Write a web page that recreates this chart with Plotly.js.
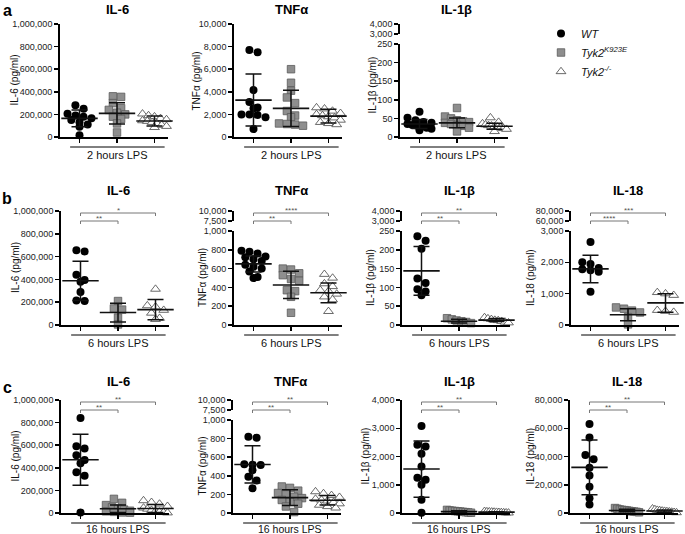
<!DOCTYPE html>
<html><head><meta charset="utf-8">
<script src="https://cdn.plot.ly/plotly-3.0.1.min.js"></script>
<style>html,body{margin:0;padding:0;background:#fff}#chart{width:685px;height:534px}</style>
</head><body><div id="chart"></div>
<script>
// ---------------- data ----------------
const groupNames = ['<i>WT</i>', '<i>Tyk2<sup>K923E</sup></i>', '<i>Tyk2<sup>-/-</sup></i>'];
const timeLabels = {a: '2 hours LPS', b: '6 hours LPS', c: '16 hours LPS'};

// row a : 2 hours LPS
const a_IL6_WT = [282000, 250000, 205000, 190000, 180000, 165000, 150000, 130000, 110000, 90000, 15000];
const a_IL6_KE = [360000, 355000, 300000, 255000, 240000, 215000, 200000, 180000, 160000, 120000, 40000];
const a_IL6_KO = [205000, 190000, 180000, 165000, 155000, 145000, 140000, 130000, 120000, 105000, 95000, 85000];
const a_IL6_mean = [165000, 209000, 141000];
const a_IL6_sd = [75000, 95000, 44000];

const a_TNF_WT = [7700, 7500, 4150, 3100, 2600, 2550, 2000, 2000, 1950, 1750, 700];
const a_TNF_KE = [6000, 4800, 4100, 3500, 3000, 2300, 1900, 1750, 1200, 1150, 1100, 1000];
const a_TNF_KO = [2600, 2500, 2300, 2100, 2000, 1900, 1800, 1700, 1500, 1300, 1200, 1100];
const a_TNF_mean = [3265, 2530, 1850];
const a_TNF_sd = [2300, 1600, 600];

const a_IL1b_WT = [68, 52, 45, 40, 38, 35, 32, 30, 28, 25, 22, 18];
const a_IL1b_KE = [78, 55, 50, 45, 42, 40, 38, 35, 32, 30, 25, 15];
const a_IL1b_KO = [52, 40, 36, 33, 31, 30, 28, 27, 25, 23, 21, 15];
const a_IL1b_mean = [35, 38, 29];
const a_IL1b_sd = [12, 13, 8];

// row b : 6 hours LPS
const b_IL6_WT = [655000, 645000, 440000, 395000, 380000, 290000, 215000, 210000];
const b_IL6_KE = [210000, 145000, 135000, 65000, 5000];
const b_IL6_KO = [315000, 170000, 160000, 130000, 105000, 60000, 50000];
const b_IL6_mean = [388000, 109000, 135000];
const b_IL6_sd = [172000, 82000, 88000];
const b_IL6_sig = ['**', '*'];

const b_TNF_WT = [790, 780, 760, 730, 720, 700, 680, 640, 620, 600, 570, 510, 500];
const b_TNF_KE = [600, 590, 550, 530, 490, 470, 370, 360, 300, 130];
const b_TNF_KO = [540, 500, 440, 410, 370, 360, 330, 300, 270, 145];
const b_TNF_mean = [650, 426, 343];
const b_TNF_sd = [85, 145, 105];
const b_TNF_sig = ['**', '****'];

const b_IL1b_WT = [236, 224, 203, 124, 112, 95, 89, 79];
const b_IL1b_KE = [18, 15, 12, 10, 8, 5];
const b_IL1b_KO = [20, 17, 15, 13, 12, 10, 8, 6];
const b_IL1b_mean = [144, 10, 13];
const b_IL1b_sd = [65, 5, 4];
const b_IL1b_sig = ['**', '**'];

const b_IL18_WT = [2650, 2000, 1950, 1820, 1780, 1750, 1700, 1060];
const b_IL18_KE = [560, 520, 460, 400, 250, 20];
const b_IL18_KO = [1040, 1000, 950, 470, 440, 410];
const b_IL18_mean = [1790, 325, 705];
const b_IL18_sd = [440, 190, 295];
const b_IL18_sig = ['****', '***'];

// row c : 16 hours LPS
const c_IL6_WT = [840000, 590000, 570000, 510000, 470000, 440000, 360000, 330000, 5000];
const c_IL6_KE = [125000, 90000, 70000, 50000, 40000, 30000, 20000, 15000, 10000, 5000, 3000];
const c_IL6_KO = [110000, 95000, 80000, 60000, 45000, 35000, 25000, 15000, 10000, 5000, 2000];
const c_IL6_mean = [471000, 38000, 40000];
const c_IL6_sd = [225000, 33000, 35000];
const c_IL6_sig = ['**', '**'];

const c_TNF_WT = [820, 810, 525, 520, 515, 460, 390, 350, 265];
const c_TNF_KE = [285, 270, 240, 215, 200, 175, 160, 140, 120, 100, 70, 10];
const c_TNF_KO = [230, 210, 190, 170, 150, 140, 130, 115, 100, 85, 70, 55];
const c_TNF_mean = [522, 165, 137];
const c_TNF_sd = [200, 85, 50];
const c_TNF_sig = ['**', '**'];

const c_IL1b_WT = [3080, 2420, 2350, 2100, 1650, 1250, 1180, 1000, 470, 10];
const c_IL1b_KE = [110, 90, 80, 70, 60, 50, 40, 30, 20, 10];
const c_IL1b_KO = [60, 50, 45, 40, 35, 30, 25, 20, 15, 10, 5];
const c_IL1b_mean = [1556, 50, 30];
const c_IL1b_sd = [995, 30, 17];
const c_IL1b_sig = ['**', '**'];

const c_IL18_WT = [63000, 53500, 41000, 38000, 32000, 26500, 18500, 10500, 6000];
const c_IL18_KE = [3500, 3000, 2500, 2200, 2000, 1800, 1500, 1200, 1000, 800, 500];
const c_IL18_KO = [3000, 2500, 2000, 1800, 1500, 1300, 1100, 900, 700, 500, 300];
const c_IL18_mean = [32300, 1800, 1400];
const c_IL18_sd = [19300, 900, 800];
const c_IL18_sig = ['**', '**'];

// ---------------- layout geometry ----------------
const W = 685, H = 534;
const FONT = 'Liberation Sans, Arial, sans-serif';
const rows = {
  a: {top: 24, bottom: 137, titleY: 9, letterY: 10},
  b: {top: 211, bottom: 325, titleY: 190, letterY: 198},
  c: {top: 400, bottom: 513, titleY: 381, letterY: 387}
};
const PW = 108, XR = [-0.52, 2.36];
const pxPerCat = PW / (XR[1] - XR[0]);

const panels = [
  {row:'a', ax:60,  title:'IL-6', yt:'IL-6 (pg/ml)', ytx:14, range:[0,1e6], dtick:2e5, d:[a_IL6_WT,a_IL6_KE,a_IL6_KO], m:a_IL6_mean, s:a_IL6_sd},
  {row:'a', ax:234, title:'TNFα', yt:'TNFα (pg/ml)', ytx:196, range:[0,1e4], dtick:2000, d:[a_TNF_WT,a_TNF_KE,a_TNF_KO], m:a_TNF_mean, s:a_TNF_sd},
  {row:'a', ax:400, title:'IL-1β', yt:'IL-1β (pg/ml)', ytx:372, range:[0,250], dtick:50, brk:[3000,4000], d:[a_IL1b_WT,a_IL1b_KE,a_IL1b_KO], m:a_IL1b_mean, s:a_IL1b_sd},
  {row:'b', ax:61,  title:'IL-6', yt:'IL-6 (pg/ml)', ytx:15, range:[0,1e6], dtick:2e5, d:[b_IL6_WT,b_IL6_KE,b_IL6_KO], m:b_IL6_mean, s:b_IL6_sd, sig:b_IL6_sig},
  {row:'b', ax:234, title:'TNFα', yt:'TNFα (pg/ml)', ytx:202, range:[0,1000], dtick:200, brk:[7500,10000], d:[b_TNF_WT,b_TNF_KE,b_TNF_KO], m:b_TNF_mean, s:b_TNF_sd, sig:b_TNF_sig},
  {row:'b', ax:402, title:'IL-1β', yt:'IL-1β (pg/ml)', ytx:370, range:[0,250], dtick:50, brk:[3000,4000], d:[b_IL1b_WT,b_IL1b_KE,b_IL1b_KO], m:b_IL1b_mean, s:b_IL1b_sd, sig:b_IL1b_sig},
  {row:'b', ax:571, title:'IL-18', yt:'IL-18 (pg/ml)', ytx:530, range:[0,3000], dtick:1000, brk:[60000,80000], d:[b_IL18_WT,b_IL18_KE,b_IL18_KO], m:b_IL18_mean, s:b_IL18_sd, sig:b_IL18_sig},
  {row:'c', ax:61,  title:'IL-6', yt:'IL-6 (pg/ml)', ytx:15, range:[0,1e6], dtick:2e5, d:[c_IL6_WT,c_IL6_KE,c_IL6_KO], m:c_IL6_mean, s:c_IL6_sd, sig:c_IL6_sig},
  {row:'c', ax:233, title:'TNFα', yt:'TNFα (pg/ml)', ytx:202, range:[0,1000], dtick:200, brk:[7500,10000], d:[c_TNF_WT,c_TNF_KE,c_TNF_KO], m:c_TNF_mean, s:c_TNF_sd, sig:c_TNF_sig},
  {row:'c', ax:402, title:'IL-1β', yt:'IL-1β (pg/ml)', ytx:365, range:[0,4000], dtick:1000, d:[c_IL1b_WT,c_IL1b_KE,c_IL1b_KO], m:c_IL1b_mean, s:c_IL1b_sd, sig:c_IL1b_sig},
  {row:'c', ax:570, title:'IL-18', yt:'IL-18 (pg/ml)', ytx:530, range:[0,80000], dtick:20000, d:[c_IL18_WT,c_IL18_KE,c_IL18_KO], m:c_IL18_mean, s:c_IL18_sd, sig:c_IL18_sig}
];

const markerStyles = [
  {symbol:'circle', size:8, color:'#000000', line:{width:0}},
  {symbol:'square', size:7.5, color:'#8e8e8e', line:{width:0.8, color:'#5a5a5a'}},
  {symbol:'triangle-up', size:8.5, color:'#ffffff', line:{width:0.8, color:'#444444'}}
];

// deterministic swarm: points whose pixel heights are close share a row, centred on the category
function swarm(vals, pxPerUnit, diam) {
  const idx = vals.map((v, i) => i).sort((a, b) => vals[b] - vals[a]);
  const off = new Array(vals.length).fill(0);
  let bin = [], start = null;
  const flush = () => {
    const n = bin.length;
    const step = n > 1 ? Math.min(diam, 24 / (n - 1)) : 0;
    bin.forEach((j, k) => { off[j] = (k - (n - 1) / 2) * step; });
    bin = [];
  };
  idx.forEach(j => {
    const py = vals[j] * pxPerUnit;
    if (start === null || start - py > diam * 0.7) { flush(); start = py; }
    bin.push(j);
  });
  flush();
  return off.map(o => o / pxPerCat);
}

const traces = [], shapes = [], annotations = [];
const layout = {
  width: W, height: H, margin: {l:0, r:0, t:0, b:0},
  paper_bgcolor: '#ffffff', plot_bgcolor: 'rgba(0,0,0,0)',
  font: {family: FONT, color: '#111', size: 10},
  showlegend: true,
  legend: {x: 541/W, y: 1 - 19/H, xanchor: 'left', yanchor: 'top', font: {family: FONT, size: 11, color:'#111'},
           bgcolor: 'rgba(0,0,0,0)', borderwidth: 0, tracegroupgap: 0, itemclick: false, itemdoubleclick: false},
  hovermode: false
};

const yAxisBase = {
  showline: true, linewidth: 1.8, linecolor: '#000', ticks: 'outside', ticklen: 4, tickwidth: 1.5, tickcolor: '#000',
  tickfont: {family: FONT, size: 9, color: '#222'}, tickformat: ',d', showgrid: false, zeroline: false, fixedrange: true
};

let yc = 0;
panels.forEach((p, i) => {
  const xn = i + 1;
  const xid = xn === 1 ? 'x' : 'x' + xn;
  const xkey = xn === 1 ? 'xaxis' : 'xaxis' + xn;
  yc++;
  const yid = yc === 1 ? 'y' : 'y' + yc;
  const ykey = yc === 1 ? 'yaxis' : 'yaxis' + yc;
  const r = rows[p.row];
  const lowTop = p.brk ? r.top + 20 : r.top;
  layout[xkey] = {
    domain: [p.ax / W, (p.ax + PW) / W], anchor: yid, range: XR,
    showline: true, linewidth: 1.8, linecolor: '#000', ticks: 'outside', ticklen: 4, tickwidth: 1.5, tickcolor: '#000',
    tickvals: [0, 1, 2], showticklabels: false, showgrid: false, zeroline: false, fixedrange: true
  };
  const tv = [];
  for (let v = p.range[0]; v <= p.range[1] + 1e-9; v += p.dtick) tv.push(v);
  layout[ykey] = Object.assign({}, yAxisBase, {
    domain: [1 - r.bottom / H, 1 - lowTop / H], anchor: xid, range: p.range, tickvals: tv
  });
  if (p.brk) {
    yc++;
    const uid = 'y' + yc;
    // upper segment of the broken y axis (no marks fall in it)
    layout['yaxis' + yc] = Object.assign({}, yAxisBase, {
      domain: [1 - (r.top + 10) / H, 1 - r.top / H], anchor: xid, range: p.brk, tickvals: p.brk
    });
    traces.push({type:'scatter', mode:'markers', x:[], y:[], xaxis:xid, yaxis:uid, showlegend:false, hoverinfo:'skip'});
  }
  const pxPerUnit = (r.bottom - lowTop) / (p.range[1] - p.range[0]);
  // points
  p.d.forEach((vals, g) => {
    const off = swarm(vals, pxPerUnit, 8.2);
    traces.push({
      type: 'scatter', mode: 'markers', x: vals.map((v, j) => g + off[j]), y: vals,
      xaxis: xid, yaxis: yid, cliponaxis: false, marker: markerStyles[g],
      name: groupNames[g], legendgroup: 'g' + g, showlegend: i === 0, hoverinfo: 'skip'
    });
  });
  // mean ± SD
  traces.push({
    type: 'scatter', mode: 'markers', x: [0, 1, 2], y: p.m, xaxis: xid, yaxis: yid, cliponaxis: false,
    marker: {symbol: 'line-ew', size: 26, color: '#111', line: {width: 1.6, color: '#111'}},
    error_y: {type: 'data', array: p.s, visible: true, width: 8, thickness: 1.5, color: '#111'},
    showlegend: false, hoverinfo: 'skip'
  });
  // panel title
  annotations.push({text: '<b>' + p.title + '</b>', x: 1, xref: xid, y: 1 - r.titleY / H, yref: 'paper',
    xanchor: 'center', yanchor: 'middle', showarrow: false, font: {family: FONT, size: 13, color: '#000'}});
  // y title
  const yMid = (lowTop + r.bottom) / 2 - (p.brk && p.row === 'a' ? 5 : 0);
  annotations.push({text: p.yt, x: p.ytx / W, xref: 'paper', y: 1 - yMid / H, yref: 'paper', textangle: -90,
    xanchor: 'center', yanchor: 'middle', showarrow: false, font: {family: FONT, size: 10, color: '#111'}});
  // time group line and label
  shapes.push({type: 'line', xref: xid, yref: 'paper', x0: -0.25, x1: 2.27, y0: 1 - (r.bottom + 10) / H, y1: 1 - (r.bottom + 10) / H,
    line: {color: '#000', width: 1}});
  annotations.push({text: timeLabels[p.row], x: 1, xref: xid, y: 1 - Math.min(r.bottom + 18, H - 5) / H, yref: 'paper',
    xanchor: 'center', yanchor: 'middle', showarrow: false, font: {family: FONT, size: p.row === 'c' ? 10.5 : 11, color: '#111'}});
  // significance brackets
  if (p.sig) {
    [[1, r.top + 10], [2, r.top + 2]].forEach((b, k) => {
      const yl = 1 - b[1] / H, yt = 1 - (b[1] + 3) / H;
      shapes.push({type: 'path', xref: xid, yref: 'paper',
        path: `M 0,${yt} L 0,${yl} L ${b[0]},${yl} L ${b[0]},${yt}`, line: {color: '#777', width: 1}});
      annotations.push({text: p.sig[k], x: b[0] / 2, xref: xid, y: yl, yref: 'paper', xanchor: 'center', yanchor: 'bottom',
        yshift: -4, showarrow: false, font: {family: FONT, size: 8, color: '#555'}});
    });
  }
});

// panel letters
Object.keys(rows).forEach(k => {
  annotations.push({text: '<b>' + k + '</b>', x: 7 / W, xref: 'paper', y: 1 - rows[k].letterY / H, yref: 'paper',
    xanchor: 'center', yanchor: 'middle', showarrow: false, font: {family: FONT, size: 16, color: '#000'}});
});

layout.shapes = shapes;
layout.annotations = annotations;
Plotly.newPlot('chart', traces, layout, {staticPlot: true, displayModeBar: false});
</script></body></html>
